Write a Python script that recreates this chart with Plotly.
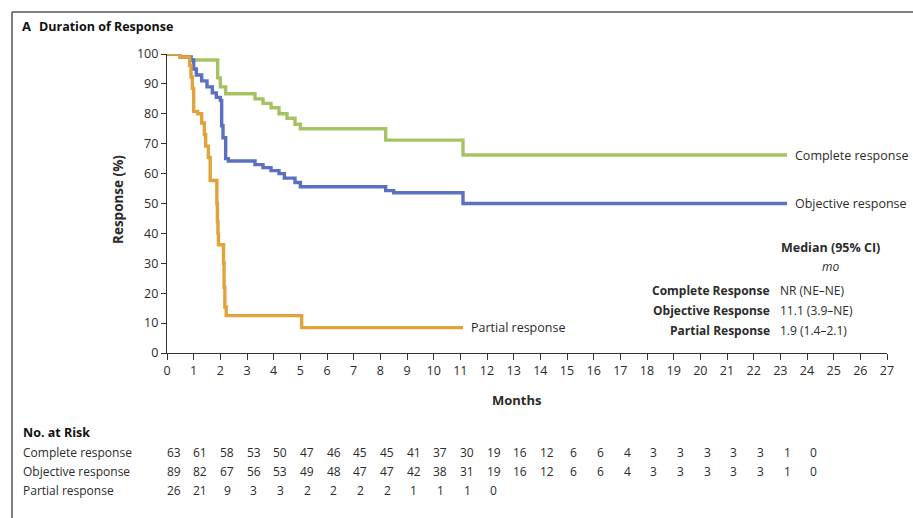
import plotly.graph_objects as go

# ---------------- data ----------------
cr_t = [0, 0.5, 0.9, 1.9, 2.0, 2.2, 3.3, 3.6, 3.9, 4.2, 4.5, 4.8, 5.0, 8.2, 11.1, 23.25]
cr_v = [100, 99, 98, 92, 89, 86.7, 85, 83.5, 82, 80, 78.5, 76.5, 75, 71.2, 66.2, 66.2]

or_t = [0, 0.5, 0.9, 1.0, 1.1, 1.3, 1.5, 1.7, 1.85, 2.0, 2.05, 2.1, 2.2, 2.3, 3.3, 3.6, 3.9,
        4.2, 4.4, 4.8, 5.0, 8.2, 8.5, 11.1, 23.25]
or_v = [100, 99, 98, 95, 93, 91, 89, 87, 85.5, 84.5, 76, 72, 65, 64.2, 63, 62, 61,
        60, 58.5, 57, 55.6, 54.3, 53.6, 50, 50]

pr_t = [0, 0.5, 0.85, 0.9, 0.95, 1.0, 1.15, 1.3, 1.4, 1.45, 1.55, 1.62, 1.87, 1.89, 1.91,
        1.93, 2.12, 2.14, 2.17, 2.22, 5.05, 11.1]
pr_v = [100, 99, 96.2, 92.3, 88.5, 80.8, 80, 76.9, 73.1, 69.2, 65.4, 57.7, 50, 44, 40,
        36.2, 30, 22, 15.4, 12.5, 8.5, 8.5]

risk_months = list(range(25))
risk_complete = [63, 61, 58, 53, 50, 47, 46, 45, 45, 41, 37, 30, 19, 16, 12, 6, 6, 4, 3, 3, 3, 3, 3, 1, 0]
risk_objective = [89, 82, 67, 56, 53, 49, 48, 47, 47, 42, 38, 31, 19, 16, 12, 6, 6, 4, 3, 3, 3, 3, 3, 1, 0]
risk_partial = [26, 21, 9, 3, 3, 2, 2, 2, 2, 1, 1, 1, 0]

x_ticks = list(range(28))
y_ticks = list(range(0, 101, 10))

median_rows = ["Complete Response", "Objective Response", "Partial Response"]
median_vals = ["NR (NE\u2013NE)", "11.1 (3.9\u2013NE)", "1.9 (1.4\u20132.1)"]

# ---------------- styling ----------------
GREEN = "#a7c263"
BLUE = "#5b70c2"
ORANGE = "#e2a23c"
TXT = "#2b2b2b"
FONT = "Open Sans, Liberation Sans, sans-serif"

W, H = 913, 518
L, R, T, B = 167, 887, 54, 353


def px(x):
    return (x - L) / (R - L)


def py(y):
    return (B - y) / (B - T)


def note(x, y, text, xa="center", size=12, color=TXT, xref="paper", **kw):
    d = dict(x=x, y=y, xref=xref, yref="paper", text=text, xanchor=xa, yanchor="middle",
             showarrow=False, font=dict(size=size, color=color))
    d.update(kw)
    return d


fig = go.Figure()
for t, v, c in [(cr_t, cr_v, GREEN), (or_t, or_v, BLUE), (pr_t, pr_v, ORANGE)]:
    fig.add_trace(go.Scatter(x=t, y=v, mode="lines", line=dict(color=c, width=3.4, shape="hv"),
                             cliponaxis=False, showlegend=False, hoverinfo="skip"))

ann = []
# curve labels
for t, v, lab in [(cr_t, cr_v, "Complete response"), (or_t, or_v, "Objective response"),
                  (pr_t, pr_v, "Partial response")]:
    ann.append(dict(x=t[-1], y=v[-1], xref="x", yref="y", text=lab, xanchor="left",
                    yanchor="middle", xshift=6, showarrow=False, font=dict(size=12.5, color=TXT)))

# title
ann.append(note(px(20), py(26), "<b>A</b>", xa="left", size=13, color="#111"))
ann.append(note(px(37), py(26), "<b>Duration of Response</b>", xa="left", size=12.5, color="#111"))

# axis titles
ann.append(note(px(118), py(200), "<b>Response (%)</b>", size=13.5, textangle=-90))
ann.append(note(px(517), py(400), "<b>Months</b>", size=13))

# median block
ann.append(note(px(830), py(247), "<b>Median (95% CI)</b>", size=12.5))
ann.append(note(px(830), py(266), "<i>mo</i>", size=12))
for i, (lab, val) in enumerate(zip(median_rows, median_vals)):
    yy = py(290 + 20 * i)
    ann.append(note(px(772), yy, "<b>%s</b>" % lab, xa="right", size=12))
    ann.append(note(px(778), yy, val, xa="left", size=12))

# risk table
ann.append(note(px(21), py(432), "<b>No. at Risk</b>", xa="left", size=12.5, color="#111"))
rows = [("Complete response", risk_complete, 452),
        ("Objective response", risk_objective, 471),
        ("Partial response", risk_partial, 490)]
for lab, vals, ypix in rows:
    ann.append(note(px(21), py(ypix), lab, xa="left", size=12))
    for m, n in zip(risk_months, vals):
        ann.append(note(m + 0.25, py(ypix), str(n), xa="center", size=12, xref="x"))

fig.update_layout(
    width=W, height=H,
    margin=dict(l=L, r=W - R, t=T, b=H - B),
    paper_bgcolor="white", plot_bgcolor="white",
    font=dict(family=FONT, color=TXT, size=12),
    annotations=ann,
    shapes=[
        dict(type="line", xref="paper", yref="paper", x0=px(12), x1=px(913), y0=py(12), y1=py(12),
             line=dict(color="#555", width=1.5)),
        dict(type="line", xref="paper", yref="paper", x0=px(12), x1=px(12), y0=py(12), y1=py(518),
             line=dict(color="#555", width=1.5)),
    ],
)
fig.update_xaxes(range=[0, 27], tickvals=x_ticks, ticks="outside", ticklen=6, tickwidth=1,
                 tickcolor="#333", showline=True, linecolor="#333", linewidth=1.2,
                 showgrid=False, zeroline=False, tickfont=dict(size=12.5, color=TXT))
fig.update_yaxes(range=[0, 100], tickvals=y_ticks, ticks="outside", ticklen=5, tickwidth=1,
                 tickcolor="#333", showline=True, linecolor="#333", linewidth=1.2,
                 showgrid=False, zeroline=False, tickfont=dict(size=12.5, color=TXT))

fig.write_html("out.html", config={"displayModeBar": False},
               post_script="document.body.style.margin='0';document.body.style.overflow='hidden';")
